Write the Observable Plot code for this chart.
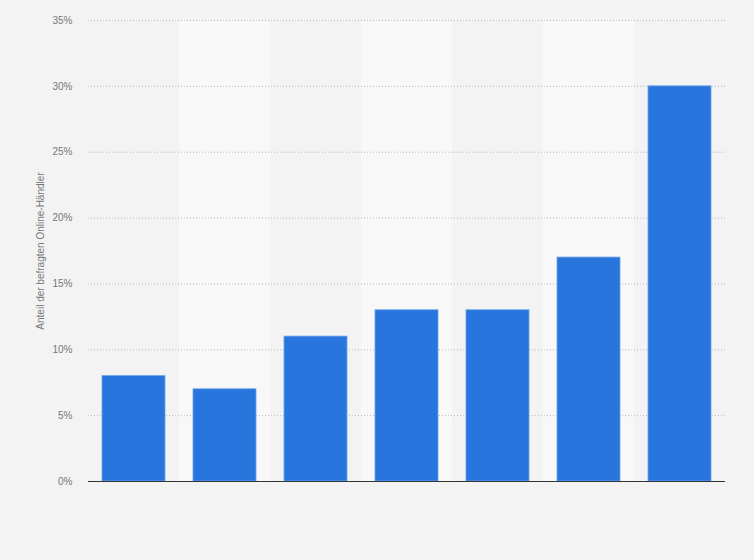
<!DOCTYPE html>
<html>
<head>
<meta charset="utf-8">
<script src="https://cdn.jsdelivr.net/npm/d3@7"></script>
<script src="https://cdn.jsdelivr.net/npm/@observablehq/plot@0.6"></script>
<style>
  html, body { margin: 0; padding: 0; background: #f3f3f3; }
  #chart svg { display: block; background: #f3f3f3; }
</style>
</head>
<body>
<div id="chart"></div>
<script>
const categories = ["1", "2", "3", "4", "5", "6", "7"];
const values = [8, 7, 11, 13, 13, 17, 30];
const yTicks = [0, 5, 10, 15, 20, 25, 30, 35];
const yLabel = "Anteil der befragten Online-Händler";

const data = categories.map((c, i) => ({category: c, value: values[i], stripe: i % 2 === 1}));
const stripes = data.filter(d => d.stripe);

const chart = Plot.plot({
  width: 754,
  height: 560,
  marginLeft: 88,
  marginRight: 29,
  marginTop: 20,
  marginBottom: 79,
  style: {fontFamily: "Arial, 'Liberation Sans', sans-serif", fontSize: "10px", color: "#666", background: "#f3f3f3"},
  x: {domain: categories, padding: 0, round: false, axis: null},
  y: {domain: [0, 35], ticks: yTicks},
  marks: [
    Plot.barY(stripes, {x: "category", y1: 0, y2: 35, fill: "#f8f8f8"}),
    Plot.gridY(yTicks, {stroke: "#b8b8b8", strokeOpacity: 1, strokeDasharray: "1,2"}),
    Plot.axisY(yTicks, {
      tickSize: 0, tickPadding: 16, tickFormat: d => d + "%",
      fill: "#777", label: yLabel, labelAnchor: "center", labelArrow: "none", labelOffset: 52
    }),
    Plot.barY(data, {x: "category", y: "value", fill: "#2876dd", stroke: "#6aa2ea", strokeWidth: 0.8, insetLeft: 14, insetRight: 14}),
    Plot.ruleY([0], {stroke: "#333", strokeWidth: 1.2})
  ]
});
document.getElementById("chart").appendChild(chart);
</script>
</body>
</html>
